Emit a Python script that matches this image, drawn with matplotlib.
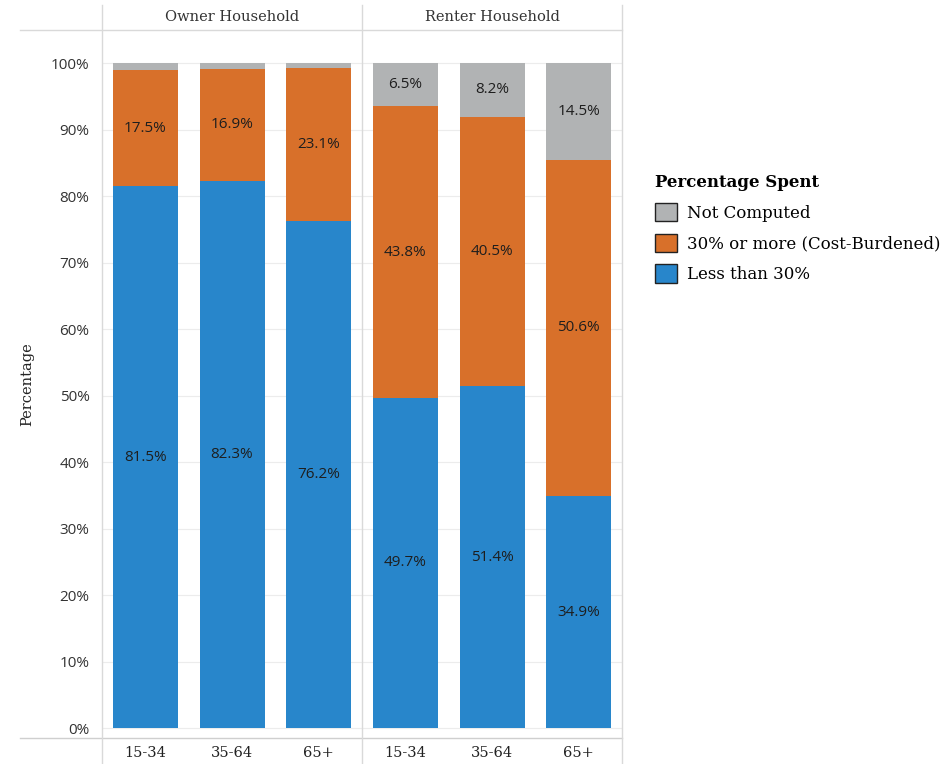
import matplotlib
matplotlib.use("Agg")
import matplotlib.pyplot as plt
from matplotlib.lines import Line2D
from matplotlib.patches import Patch

# data
groups = ['Owner Household', 'Renter Household']
ages = ['15-34', '35-64', '65+']
less_30 = [81.5, 82.3, 76.2, 49.7, 51.4, 34.9]
burdened = [17.5, 16.9, 23.1, 43.8, 40.5, 50.6]
not_computed = [1.0, 0.8, 0.7, 6.5, 8.2, 14.5]
show_nc_label = [False, False, False, True, True, True]

c_blue = '#2886CB'
c_orange = '#D8702A'
c_gray = '#B1B3B4'
serif = 'DejaVu Serif'
sans = 'Open Sans'
W, H = 947, 764

fig = plt.figure(figsize=(W / 100, H / 100), dpi=100)
ax = fig.add_axes([102 / W, 1 - 738 / H, 520 / W, 708 / H])

x = list(range(6))
ax.bar(x, less_30, width=0.75, color=c_blue)
ax.bar(x, burdened, width=0.75, bottom=less_30, color=c_orange)
tops = [a + b for a, b in zip(less_30, burdened)]
ax.bar(x, not_computed, width=0.75, bottom=tops, color=c_gray)

lab = dict(ha='center', va='center', fontsize=11, family=sans, color='#1e1e1e')
for i in x:
    ax.text(i, less_30[i] / 2, f'{less_30[i]:.1f}%', **lab)
    ax.text(i, less_30[i] + burdened[i] / 2, f'{burdened[i]:.1f}%', **lab)
    if show_nc_label[i]:
        ax.text(i, tops[i] + not_computed[i] / 2, f'{not_computed[i]:.1f}%', **lab)

ax.set_xlim(-0.5, 5.5)
ax.set_ylim(-1.5, 105)
ax.set_yticks(range(0, 101, 10))
ax.set_yticklabels([f'{v}%' for v in range(0, 101, 10)], family=sans,
                   fontsize=11, color='#333333')
ax.set_xticks(x)
ax.set_xticklabels(ages * 2, family=serif, fontsize=10.5, color='#222222')
ax.tick_params(length=0, pad=9)
ax.tick_params(axis='x', pad=6)
ax.grid(axis='y', color='#ececec', linewidth=0.8)
ax.set_axisbelow(True)
for s in ax.spines.values():
    s.set_visible(False)
ax.set_ylabel('Percentage', family=serif, fontsize=10.5, color='#222222', labelpad=12)

# panel frame lines in figure pixels
def fline(x0, y0, x1, y1, c='#d9d9d9', lw=1.0):
    fig.add_artist(Line2D([x0 / W, x1 / W], [1 - y0 / H, 1 - y1 / H],
                          transform=fig.transFigure, color=c, lw=lw))

fline(20, 30, 622, 30)
fline(20, 738, 622, 738, c='#cfcfcf')
for px in (102, 362, 622):
    fline(px, 5, px, 764)

fig.text(232 / W, 1 - 17 / H, groups[0], ha='center', va='center',
         family=serif, fontsize=10.5, color='#333333')
fig.text(492 / W, 1 - 17 / H, groups[1], ha='center', va='center',
         family=serif, fontsize=10.5, color='#333333')

handles = [Patch(facecolor=c_gray, edgecolor='#222222'),
           Patch(facecolor=c_orange, edgecolor='#222222'),
           Patch(facecolor=c_blue, edgecolor='#222222')]
labels = ['Not Computed', '30% or more (Cost-Burdened)', 'Less than 30%']
leg = fig.legend(handles, labels, loc='upper left', bbox_to_anchor=(640 / W, 1 - 159 / H),
                 frameon=False, title='Percentage Spent',
                 prop={'family': serif, 'size': 12}, handlelength=1.3,
                 handleheight=1.3, handletextpad=0.6, labelspacing=0.72)
leg.get_title().set_fontfamily(serif)
leg.get_title().set_fontweight('bold')
leg.get_title().set_fontsize(12)
leg._legend_box.align = 'left'

fig.savefig('out.png', dpi=100, facecolor='white')
